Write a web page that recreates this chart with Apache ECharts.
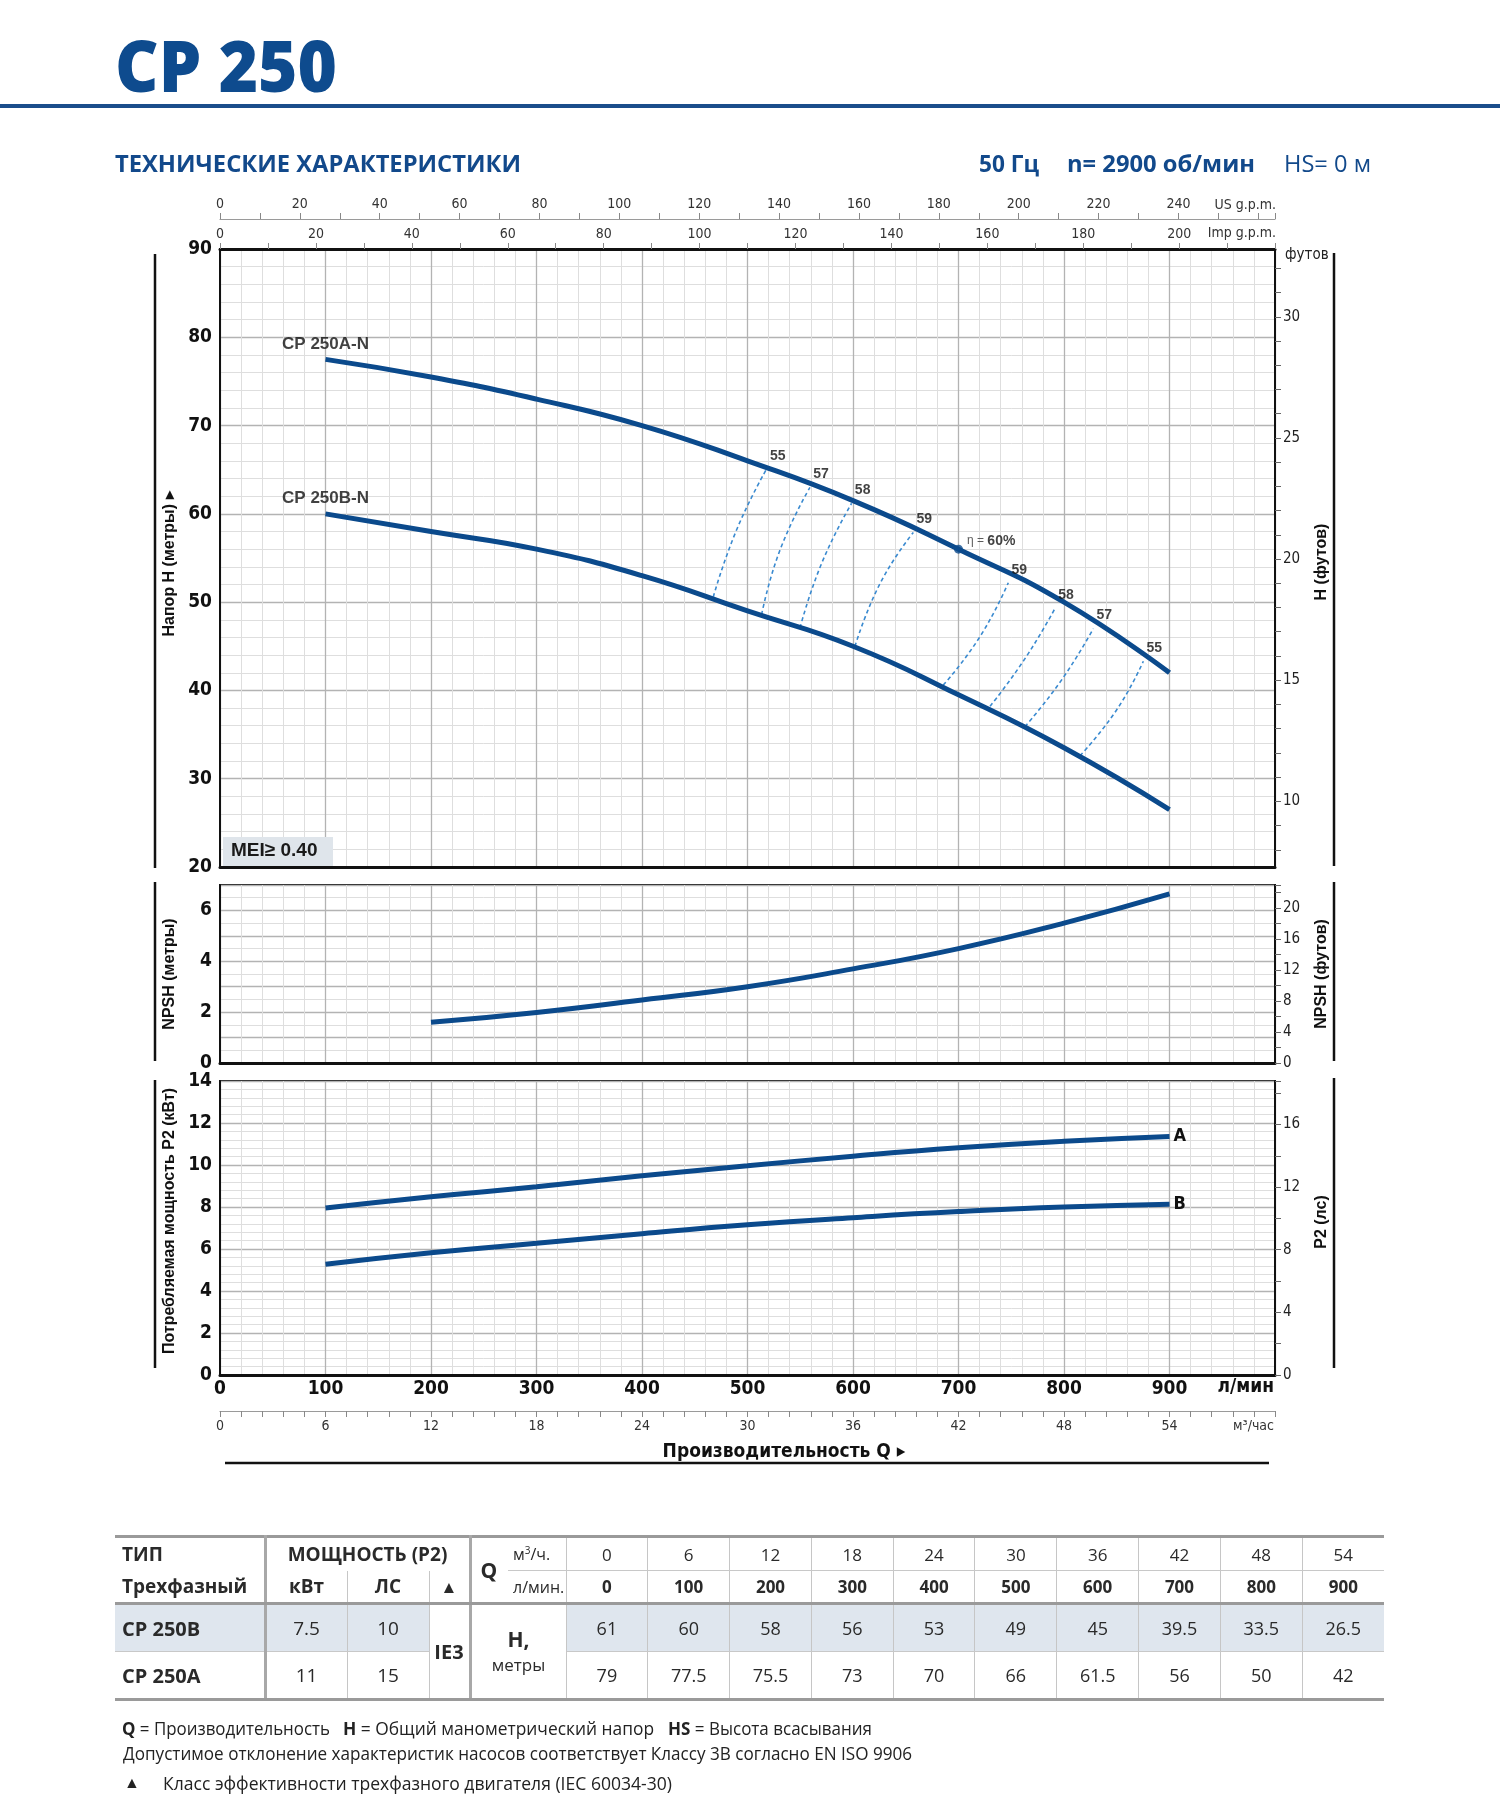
<!DOCTYPE html>
<html lang="ru">
<head>
<meta charset="utf-8">
<title>CP 250</title>
<script src="https://cdn.jsdelivr.net/npm/echarts@6/dist/echarts.min.js"></script>
<style>
html,body{margin:0;padding:0;background:#fff;}
body{width:1500px;height:1805px;position:relative;overflow:hidden;font-family:'Open Sans','Noto Sans',sans-serif;color:#222;}
#chart{position:absolute;left:0;top:0;width:1500px;height:1805px;}
.abs{position:absolute;white-space:nowrap;transform-origin:left center;}
#title{left:115px;top:25px;line-height:80px;font-size:70px;font-weight:800;color:#0e4b8e;}
#rule{position:absolute;left:0;top:104px;width:1500px;height:4px;background:#1a4d8b;}
.hd{top:148px;line-height:30px;font-size:23px;font-weight:bold;color:#12498b;}
.hd.reg{font-weight:normal;}
.fn{font-size:18px;line-height:24px;color:#222;}
#tbl{position:absolute;left:115px;top:1535px;width:1269px;border-collapse:collapse;table-layout:fixed;font-family:'Open Sans','Noto Sans',sans-serif;}
#tbl td{padding:0;text-align:center;vertical-align:middle;white-space:nowrap;color:#2a2a2a;font-size:17px;overflow:hidden;}
#tbl tr.r1 td{border-top:3px solid #9a9a9a;height:32px;}
#tbl tr.r2 td{border-bottom:3px solid #9a9a9a;height:31px;}
#tbl tr.r3 td{height:46px;}
#tbl tr.r4 td{border-bottom:3px solid #9a9a9a;height:46px;}
#tbl td.b{font-weight:bold;}
#tbl td.L{text-align:left;padding-left:7px;}
#tbl td.vr3{border-right:3px solid #a8a8a8;}
#tbl td.vr1{border-right:1px solid #c6c6c6;}
#tbl td.hb1{border-bottom:1px solid #c8c8c8;}
#tbl td.hb3{border-bottom:3px solid #9a9a9a;}
#tbl td.bg{background:#dfe6ee;}
</style>
</head>
<body>
<div id="chart"></div>
<div class="abs" id="title" data-w="222">CP 250</div>
<div id="rule"></div>
<div class="abs hd" style="left:115px" data-w="406">ТЕХНИЧЕСКИЕ ХАРАКТЕРИСТИКИ</div>
<div class="abs hd" style="left:979px" data-w="60">50 Гц</div>
<div class="abs hd" style="left:1067px" data-w="188">n= 2900 об/мин</div>
<div class="abs hd reg" style="left:1284px" data-w="87">HS= 0 м</div>
<table id="tbl"></table>
<div class="abs fn" style="left:122px;top:1716px" data-w="208"><b>Q</b> = Производительность</div>
<div class="abs fn" style="left:343px;top:1716px" data-w="311"><b>H</b> = Общий манометрический напор</div>
<div class="abs fn" style="left:668px;top:1716px" data-w="204"><b>HS</b> = Высота всасывания</div>
<div class="abs fn" style="left:123px;top:1741px" data-w="789">Допустимое отклонение характеристик насосов соответствует Классу 3B согласно EN ISO 9906</div>
<div class="abs fn" style="left:124px;top:1770px;font-size:16px">▲</div>
<div class="abs fn" style="left:163px;top:1771px" data-w="509">Класс эффективности трехфазного двигателя (IEC 60034-30)</div>
<script>
// ---------------- data ----------------
const qM3h   = [0, 6, 12, 18, 24, 30, 36, 42, 48, 54];
const qLmin  = [0, 100, 200, 300, 400, 500, 600, 700, 800, 900];
const headB  = [61, 60, 58, 56, 53, 49, 45, 39.5, 33.5, 26.5];
const headA  = [79, 77.5, 75.5, 73, 70, 66, 61.5, 56, 50, 42];
const models = ['CP 250B', 'CP 250A'];
const curveNames = ['CP 250A-N', 'CP 250B-N'];
const motorKW = [7.5, 11];
const motorHP = [10, 15];
const effClass = 'IE3';
const curveStartQ = 100;

const npshQ = [200, 300, 400, 500, 600, 700, 800, 900];
const npshM = [1.6, 1.99, 2.48, 3.0, 3.7, 4.5, 5.5, 6.65];

const powerQ = [100, 200, 300, 400, 500, 600, 700, 800, 900];
const powerA = [7.95, 8.49, 8.96, 9.49, 9.96, 10.42, 10.82, 11.13, 11.36];
const powerB = [5.27, 5.82, 6.27, 6.73, 7.15, 7.49, 7.78, 8.0, 8.13];
const powerNames = ['A', 'B'];

// iso-efficiency dashed lines: [Q l/min, H m] from curve B up to curve A
const iso55L = [[467.6, 50.6], [489.7, 58.2], [518.2, 65.1]];
const iso57L = [[513.4, 48.6], [530.8, 55.9], [559.2, 63.0]];
const iso58L = [[549.8, 47.1], [570.3, 54.4], [598.7, 61.2]];
const iso59L = [[601.9, 45.0], [625.6, 52.1], [657.2, 57.9]];
const iso59R = [[685.6, 40.6], [720.4, 46.1], [747.2, 52.2]];
const iso58R = [[729.9, 38.2], [763.0, 43.6], [791.5, 49.3]];
const iso57R = [[763.0, 35.9], [797.8, 41.2], [827.8, 47.0]];
const iso55R = [[815.2, 32.6], [849.9, 37.8], [875.2, 43.3]];
const isoLines  = [iso55L, iso57L, iso58L, iso59L, iso59R, iso58R, iso57R, iso55R];
const isoLabels = ['55', '57', '58', '59', '59', '58', '57', '55'];
const bestEffQ = 700;
const bestEffLabel = '60%';

// tick label lists
const hTicks = [20, 30, 40, 50, 60, 70, 80, 90];
const ftTickValues  = [8, 9, 10, 11, 12, 13, 14, 15, 16, 17, 18, 19, 20, 21, 22, 23, 24, 25, 26, 27, 28, 29, 30, 31, 32];
const ftLabelValues = [10, 15, 20, 25, 30];
const usGpmLabelMax = 240, impGpmLabelMax = 200;

// unit conversions
const L_PER_USGAL = 3.78541, L_PER_IMPGAL = 4.54609;
const M_PER_FTUNIT = 2.744;   // scale of the right "футов" axis as printed
const M_PER_FT = 0.3048, KW_PER_HP = 0.7457;
const Q_MAX = 1000;

// ---------------- table ----------------
(function buildTable() {
  const tb = document.getElementById('tbl');
  let h = '<colgroup><col style="width:150px"><col style="width:82px"><col style="width:82px"><col style="width:41px"><col style="width:38px"><col style="width:58px">' +
    qM3h.map(() => '<col style="width:81.8px">').join('') + '</colgroup>';
  const last = qM3h.length - 1;
  h += '<tr class="r1"><td class="b L vr3" style="font-size:19px">ТИП</td>' +
       '<td class="b vr3" colspan="3" style="font-size:19px">МОЩНОСТЬ (P2)</td>' +
       '<td class="b hb3" rowspan="2" style="font-size:21px;text-align:left;padding-left:9px">Q</td>' +
       '<td class="hb1 vr1" style="text-align:left;padding-left:5px;font-size:16px">м<sup style="font-size:10px">3</sup>/ч.</td>' +
       qM3h.map((v, i) => '<td class="hb1' + (i < last ? ' vr1' : '') + '">' + v + '</td>').join('') + '</tr>';
  h += '<tr class="r2"><td class="b L vr3" style="font-size:19px">Трехфазный</td>' +
       '<td class="b vr1" style="font-size:19px">кВт</td><td class="b vr1" style="font-size:19px">ЛС</td>' +
       '<td class="vr3" style="font-size:17px">▲</td>' +
       '<td class="vr1" style="text-align:left;padding-left:5px;font-size:16px">л/мин.</td>' +
       qLmin.map((v, i) => '<td class="b' + (i < last ? ' vr1' : '') + '">' + v + '</td>').join('') + '</tr>';
  h += '<tr class="r3"><td class="b L vr3 hb1 bg" style="font-size:20px">' + models[0] + '</td>' +
       '<td class="vr1 hb1 bg" style="font-size:19px">' + motorKW[0] + '</td><td class="vr1 hb1 bg" style="font-size:19px">' + motorHP[0] + '</td>' +
       '<td class="b vr3 hb3" rowspan="2" style="font-size:20px">' + effClass + '</td>' +
       '<td class="vr1 hb3" colspan="2" rowspan="2" style="line-height:24px"><b style="font-size:21px">H,</b><br><span style="font-size:17px">метры</span></td>' +
       headB.map((v, i) => '<td class="hb1 bg' + (i < last ? ' vr1' : '') + '" style="font-size:18px">' + v + '</td>').join('') + '</tr>';
  h += '<tr class="r4"><td class="b L vr3" style="font-size:20px">' + models[1] + '</td>' +
       '<td class="vr1" style="font-size:19px">' + motorKW[1] + '</td><td class="vr1" style="font-size:19px">' + motorHP[1] + '</td>' +
       headA.map((v, i) => '<td class="' + (i < last ? 'vr1' : '') + '" style="font-size:18px">' + v + '</td>').join('') + '</tr>';
  tb.innerHTML = h;
})();

function fitTexts() {
  document.querySelectorAll('[data-w]').forEach(el => {
    el.style.transform = 'none';
    const w = el.getBoundingClientRect().width;
    const t = +el.dataset.w;
    if (w > 0) el.style.transform = 'scaleX(' + (t / w).toFixed(4) + ')';
  });
}

// ---------------- chart ----------------
const BLUE = '#0b4a8c';
const DASH = '#3a8ad0';
const NARROW = "'Liberation Sans Narrow','DejaVu Sans Condensed','Liberation Sans',Arial,sans-serif";
const SANS = "'Liberation Sans',Arial,sans-serif";

const chart = echarts.init(document.getElementById('chart'), null, {renderer: 'canvas', width: 1500, height: 1805});

const gridBase = {show: true, borderColor: '#111', borderWidth: 2, backgroundColor: 'rgba(0,0,0,0)', containLabel: false, outerBoundsMode: 'none', left: 220, width: 1055};
const grids = [
  Object.assign({}, gridBase, {top: 249, height: 618}),
  Object.assign({}, gridBase, {top: 885, height: 178}),
  Object.assign({}, gridBase, {top: 1081, height: 294})
];
const majorSplit = {show: true, lineStyle: {color: '#b3b3b3', width: 1.3}};
const minorSplit = {show: true, lineStyle: {color: '#dedede', width: 1}};

function qAxis(gi, extra) {
  return Object.assign({
    type: 'value', gridIndex: gi, position: 'bottom', min: 0, max: Q_MAX, interval: 100,
    axisLine: {show: true, onZero: false, lineStyle: {color: '#111', width: 3}},
    axisTick: {show: false}, axisLabel: {show: false},
    splitLine: majorSplit, minorTick: {show: false, splitNumber: 5}, minorSplitLine: minorSplit
  }, extra || {});
}
const smallLbl = {fontFamily: NARROW, fontSize: 14, color: '#333'};
function gpmFmt(maxLbl) {
  return v => { const r = Math.round(v); return (r % 20 === 0 && r <= maxLbl) ? String(r) : ''; };
}
const xAxes = [
  qAxis(0),
  { // Imp g.p.m.
    type: 'value', gridIndex: 0, position: 'top', offset: 0, min: 0, max: Q_MAX / L_PER_IMPGAL, interval: 10,
    axisLine: {show: true, onZero: false, lineStyle: {color: '#111', width: 3}},
    axisTick: {show: true, length: 6, lineStyle: {color: '#888'}},
    axisLabel: Object.assign({margin: 8, formatter: gpmFmt(impGpmLabelMax)}, smallLbl),
    splitLine: {show: false}
  },
  { // US g.p.m.
    type: 'value', gridIndex: 0, position: 'top', offset: 30, min: 0, max: Q_MAX / L_PER_USGAL, interval: 10,
    axisLine: {show: true, onZero: false, lineStyle: {color: '#9a9a9a', width: 1.2}},
    axisTick: {show: true, length: 6, lineStyle: {color: '#888'}},
    axisLabel: Object.assign({margin: 8, formatter: gpmFmt(usGpmLabelMax)}, smallLbl),
    splitLine: {show: false}
  },
  qAxis(1),
  qAxis(2, {axisLabel: {show: true, margin: 5, fontFamily: NARROW, fontWeight: 'bold', fontSize: 19, color: '#111',
    formatter: v => (v >= Q_MAX ? '' : String(v))}}),
  { // m3/h
    type: 'value', gridIndex: 2, position: 'bottom', offset: 36, min: 0, max: Q_MAX * 60 / 1000, interval: 1.2,
    axisLine: {show: true, onZero: false, lineStyle: {color: '#9a9a9a', width: 1.2}},
    axisTick: {show: true, length: 6, lineStyle: {color: '#888'}},
    axisLabel: Object.assign({margin: 8, formatter: v => {
      const k = v / 6; if (Math.abs(k - Math.round(k)) > 1e-6 || v > 58) return ''; return String(Math.round(v)); }}, smallLbl),
    splitLine: {show: false}
  }
];

function leftAxis(gi, min, max, interval, minorN, fmt) {
  return {
    type: 'value', gridIndex: gi, position: 'left', min, max, interval,
    axisLine: {show: true, onZero: false, lineStyle: {color: '#111', width: 2}},
    axisTick: {show: false},
    axisLabel: {margin: 8, fontFamily: NARROW, fontWeight: 'bold', fontSize: 19, color: '#111', formatter: fmt || (v => String(v))},
    splitLine: majorSplit, minorTick: {show: false, splitNumber: minorN}, minorSplitLine: minorSplit
  };
}
function rightAxis(gi, min, max, extra) {
  return Object.assign({
    type: 'value', gridIndex: gi, position: 'right', min, max,
    axisLine: {show: true, onZero: false, lineStyle: {color: '#111', width: 2}},
    axisTick: {show: true, length: 6, lineStyle: {color: '#666'}},
    axisLabel: {margin: 8, fontFamily: NARROW, fontSize: 15, color: '#222'},
    splitLine: {show: false}, minorSplitLine: {show: false}
  }, extra);
}
const yAxes = [
  leftAxis(0, hTicks[0], hTicks[hTicks.length - 1], 10, 5),
  rightAxis(0, hTicks[0] / M_PER_FTUNIT, hTicks[hTicks.length - 1] / M_PER_FTUNIT, {
    axisTick: {show: true, length: 6, customValues: ftTickValues, lineStyle: {color: '#666'}},
    axisLabel: {margin: 8, fontFamily: NARROW, fontSize: 15, color: '#222', customValues: ftLabelValues}
  }),
  leftAxis(1, 0, 7, 1, 2, v => (v % 2 === 0 ? String(v) : '')),
  rightAxis(1, 0, 7 / M_PER_FT, {interval: 2,
    axisLabel: {margin: 8, fontFamily: NARROW, fontSize: 15, color: '#222', formatter: v => (v % 4 === 0 ? String(v) : '')}}),
  leftAxis(2, 0, 14, 2, 5),
  rightAxis(2, 0, 14 / KW_PER_HP, {interval: 2,
    axisLabel: {margin: 8, fontFamily: NARROW, fontSize: 15, color: '#222', formatter: v => (v % 4 === 0 ? String(v) : '')}})
];

const iStart = qLmin.indexOf(curveStartQ);
const curveA = qLmin.slice(iStart).map((q, i) => [q, headA[iStart + i]]);
const curveB = qLmin.slice(iStart).map((q, i) => [q, headB[iStart + i]]);
const npshData = npshQ.map((q, i) => [q, npshM[i]]);
const pA = powerQ.map((q, i) => [q, powerA[i]]);
const pB = powerQ.map((q, i) => [q, powerB[i]]);

const thick = {type: 'line', smooth: 0.5, symbol: 'none', silent: true, z: 6,
  lineStyle: {color: BLUE, width: 5}};
const series = [
  Object.assign({}, thick, {name: curveNames[0], xAxisIndex: 0, yAxisIndex: 0, data: curveA}),
  Object.assign({}, thick, {name: curveNames[1], xAxisIndex: 0, yAxisIndex: 0, data: curveB}),
  ...isoLines.map((pts, i) => ({type: 'line', name: 'iso' + i, xAxisIndex: 0, yAxisIndex: 0, smooth: true, symbol: 'none', silent: true, z: 4,
    lineStyle: {color: DASH, width: 1.6, type: [4, 3]}, data: pts})),
  {type: 'scatter', name: 'isoLabels', xAxisIndex: 0, yAxisIndex: 0, symbolSize: 0, silent: true, z: 7,
    data: isoLines.map((pts, i) => ({value: pts[pts.length - 1], label: {formatter: isoLabels[i]}})),
    label: {show: true, position: 'top', distance: 4, offset: [11, -2], fontFamily: SANS, fontSize: 14, fontWeight: 'bold', color: '#111'}},
  {type: 'scatter', name: 'best', xAxisIndex: 0, yAxisIndex: 0, symbolSize: 9, silent: true, z: 8, itemStyle: {color: BLUE},
    data: [[bestEffQ, headA[qLmin.indexOf(bestEffQ)]]],
    label: {show: true, position: 'right', distance: 4, offset: [0, -8], formatter: '{a|η = }{b|' + bestEffLabel + '}',
      rich: {a: {fontFamily: SANS, fontSize: 12, color: '#333'}, b: {fontFamily: SANS, fontSize: 14, fontWeight: 'bold', color: '#111'}}}},
  {type: 'scatter', name: 'curveNames', xAxisIndex: 0, yAxisIndex: 0, symbolSize: 0, silent: true, z: 8,
    data: [{value: curveA[0], label: {formatter: curveNames[0]}}, {value: curveB[0], label: {formatter: curveNames[1]}}],
    label: {show: true, position: 'top', distance: 7, fontFamily: SANS, fontSize: 17, fontWeight: 'bold', color: '#111'}},
  Object.assign({}, thick, {name: 'NPSH', xAxisIndex: 3, yAxisIndex: 2, data: npshData}),
  Object.assign({}, thick, {name: 'P2 A', xAxisIndex: 4, yAxisIndex: 4, data: pA,
    endLabel: {show: true, formatter: powerNames[0], distance: 4, fontFamily: NARROW, fontSize: 18, fontWeight: 'bold', color: '#111'}}),
  Object.assign({}, thick, {name: 'P2 B', xAxisIndex: 4, yAxisIndex: 4, data: pB,
    endLabel: {show: true, formatter: powerNames[1], distance: 4, fontFamily: NARROW, fontSize: 18, fontWeight: 'bold', color: '#111'}})
];

function vline(x, y1, y2) {
  return {type: 'line', silent: true, z: 10, shape: {x1: x, y1: y1, x2: x, y2: y2}, style: {stroke: '#111', lineWidth: 2.5}};
}
function txt(text, x, y, o) {
  return Object.assign({type: 'text', silent: true, z: 10, x: x, y: y,
    style: Object.assign({text: text, fill: '#111', fontFamily: SANS, fontSize: 16, fontWeight: 'bold', align: 'center', verticalAlign: 'middle'}, (o && o.style) || {})},
    (o && o.el) || {});
}
const ROT = {el: {rotation: Math.PI / 2}};
const graphic = [
  vline(155, 254, 868), vline(155, 882, 1061), vline(155, 1080, 1368),
  vline(1334, 253, 866), vline(1334, 882, 1061), vline(1334, 1078, 1368),
  txt('Напор H (метры) ▸', 170, 564, ROT),
  txt('NPSH (метры)', 170, 974, ROT),
  txt('Потребляемая мощность P2 (кВт)', 170, 1221, ROT),
  txt('H (футов)', 1322, 562, ROT),
  txt('NPSH (футов)', 1322, 974, ROT),
  txt('P2 (лс)', 1322, 1222, ROT),
  txt('футов', 1285, 255, {style: {fontFamily: NARROW, fontSize: 15, fontWeight: 'normal', align: 'left', fill: '#222'}}),
  txt('US g.p.m.', 1276, 205, {style: {fontFamily: NARROW, fontSize: 14, fontWeight: 'normal', align: 'right', fill: '#333'}}),
  txt('Imp g.p.m.', 1276, 233, {style: {fontFamily: NARROW, fontSize: 14, fontWeight: 'normal', align: 'right', fill: '#333'}}),
  txt('м³/час', 1274, 1426, {style: {fontFamily: NARROW, fontSize: 14, fontWeight: 'normal', align: 'right', fill: '#333'}}),
  txt('л/мин', 1274, 1387, {style: {fontFamily: NARROW, fontSize: 19, align: 'right'}}),
  txt('Производительность Q ▸', 784, 1452, {style: {fontFamily: NARROW, fontSize: 19}}),
  {type: 'line', silent: true, z: 10, shape: {x1: 225, y1: 1463, x2: 1269, y2: 1463}, style: {stroke: '#111', lineWidth: 2.5}},
  {type: 'rect', silent: true, z: 9, shape: {x: 223, y: 837, width: 110, height: 29}, style: {fill: '#dfe5eb'}},
  txt('MEI≥ 0.40', 231, 851, {style: {fontSize: 19, align: 'left', fill: '#1a1a1a'}})
];

chart.setOption({
  animation: false,
  backgroundColor: 'transparent',
  textStyle: {fontFamily: SANS},
  grid: grids,
  xAxis: xAxes,
  yAxis: yAxes,
  series: series,
  graphic: graphic
});

if (document.fonts && document.fonts.ready) { document.fonts.ready.then(fitTexts); } else { fitTexts(); }
fitTexts();
</script>
</body>
</html>
